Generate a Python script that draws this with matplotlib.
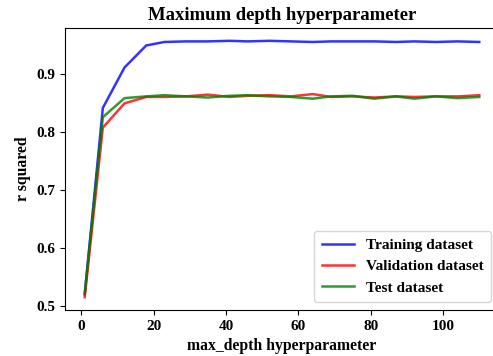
import matplotlib
matplotlib.use('Agg')
from matplotlib import pyplot as plt

max_depth = [1, 6, 12, 18, 23, 29, 35, 41, 46, 52, 58, 64, 69, 75, 81, 87, 92, 98, 104, 110]
train_r2 = [0.520, 0.842, 0.912, 0.950, 0.956, 0.957, 0.957, 0.958, 0.957, 0.958,
            0.957, 0.956, 0.957, 0.957, 0.957, 0.956, 0.957, 0.956, 0.957, 0.956]
val_r2 = [0.515, 0.808, 0.850, 0.861, 0.861, 0.862, 0.865, 0.861, 0.863, 0.864,
          0.862, 0.866, 0.861, 0.862, 0.860, 0.862, 0.861, 0.862, 0.862, 0.864]
test_r2 = [0.522, 0.826, 0.859, 0.862, 0.864, 0.862, 0.860, 0.863, 0.864, 0.862,
           0.861, 0.858, 0.862, 0.863, 0.858, 0.862, 0.858, 0.862, 0.859, 0.861]

plt.rcParams['font.family'] = 'serif'
plt.rcParams['font.serif'] = ['Liberation Serif', 'DejaVu Serif']
plt.rcParams['font.weight'] = 'bold'

fig = plt.figure(figsize=(4.93, 3.56), dpi=100)
ax = fig.add_axes([65 / 493, 1 - 310 / 356, 434 / 493, 282 / 356])

ax.plot(max_depth, train_r2, color='blue', alpha=0.8, linewidth=1.8, label='Training dataset')
ax.plot(max_depth, val_r2, color='red', alpha=0.8, linewidth=1.8, label='Validation dataset')
ax.plot(max_depth, test_r2, color='green', alpha=0.8, linewidth=1.8, label='Test dataset')

ax.set_xticks([0, 20, 40, 60, 80, 100])
ax.set_yticks([0.5, 0.6, 0.7, 0.8, 0.9])
ax.tick_params(labelsize=11)
for lbl in ax.get_xticklabels() + ax.get_yticklabels():
    lbl.set_fontweight('bold')

ax.set_title('Maximum depth hyperparameter', fontsize=13.4, fontweight='bold')
ax.set_xlabel('max_depth hyperparameter', fontsize=11.3, fontweight='bold')
ax.set_ylabel('r squared', fontsize=11.3, fontweight='bold')

ax.legend(loc='lower right', prop={'size': 11, 'weight': 'bold'},
          borderpad=0.5, handlelength=2.1)

fig.savefig('out.png', dpi=100)
